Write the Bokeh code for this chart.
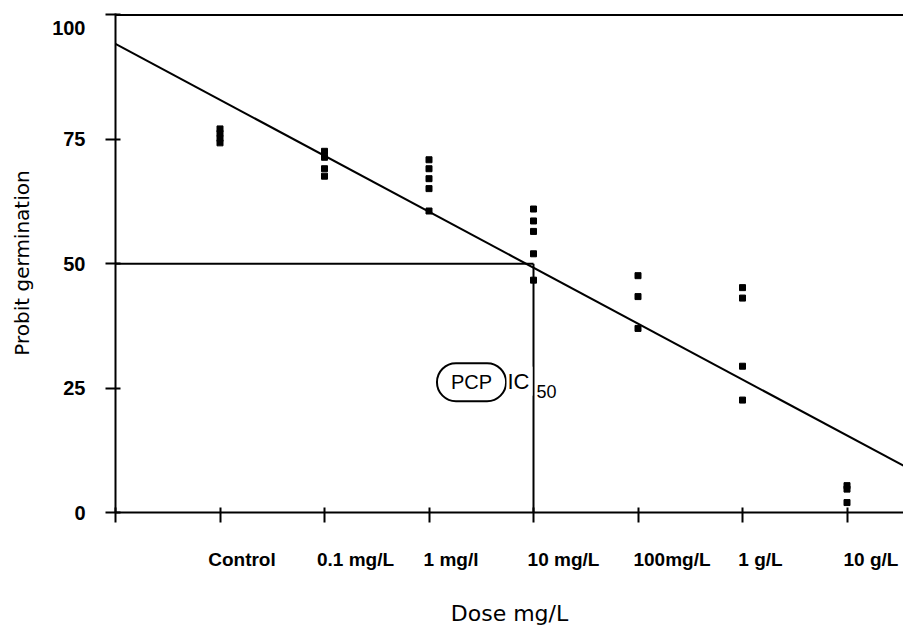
from bokeh.plotting import figure
from bokeh.models import Range1d, FixedTicker, Span, Label, LinearAxis
from bokeh.embed import file_html
from bokeh.resources import INLINE

# ---- data ----
dose_labels = ["Control", "0.1 mg/L", "1 mg/l", "10 mg/L", "100mg/L", "1 g/L", "10 g/L"]
dose_pos = [1, 2, 3, 4, 5, 6, 7]

control_vals = [77.1, 76.2, 75.2, 74.3]
dose_01mg_vals = [72.6, 71.4, 69.1, 67.6]
dose_1mg_vals = [70.9, 69.1, 67.1, 65.1, 60.6]
dose_10mg_vals = [61.0, 58.6, 56.5, 52.0, 46.7]
dose_100mg_vals = [47.6, 43.4, 37.0]
dose_1g_vals = [45.2, 43.1, 29.4, 22.6]
dose_10g_vals = [5.4, 4.7, 2.0]

fit_x = [0.0, 7.54]
fit_y = [94.2, 9.4]

ic50_x = 4
ic50_y = 50

y_ticks = [0, 25, 50, 75, 100]

# layout only: pixel shift of each dose label's centre to the right of its tick
label_shift_px = [22, 31, 22, 30, 34, 18, 24]
PX_PER_UNIT = 104.5

series = [control_vals, dose_01mg_vals, dose_1mg_vals, dose_10mg_vals,
          dose_100mg_vals, dose_1g_vals, dose_10g_vals]
pts_x, pts_y = [], []
for pos, vals in zip(dose_pos, series):
    pts_x += [pos] * len(vals)
    pts_y += vals

TICK_FONT = "Liberation Sans"
TITLE_FONT = "DejaVu Sans"

p = figure(frame_width=788, frame_height=499,
           x_range=Range1d(0, 788 / PX_PER_UNIT), y_range=Range1d(0, 100.3),
           output_backend="svg", toolbar_location=None,
           min_border_left=115, min_border_right=0,
           min_border_top=13, min_border_bottom=112)
p.outline_line_color = None
p.grid.visible = False
p.background_fill_color = "white"

# x axis: line and ticks only
xa = p.xaxis[0]
xa.ticker = FixedTicker(ticks=[0] + dose_pos)
xa.major_label_overrides = {i: "" for i in [0] + dose_pos}
xa.major_label_text_font_size = "0px"
xa.major_label_standoff = 0
xa.major_tick_in = 5
xa.major_tick_out = 10
xa.minor_tick_line_color = None
xa.axis_line_width = 2
xa.major_tick_line_width = 2

# second x axis: the dose labels, set to the right of each tick
label_pos = [d + s / PX_PER_UNIT for d, s in zip(dose_pos, label_shift_px)]
xb = LinearAxis(ticker=FixedTicker(ticks=label_pos),
                major_label_overrides={lp: t for lp, t in zip(label_pos, dose_labels)})
xb.axis_line_color = None
xb.major_tick_line_color = None
xb.minor_tick_line_color = None
xb.major_tick_in = 0
xb.major_tick_out = 0
xb.major_label_standoff = 26
xb.major_label_text_font = TICK_FONT
xb.major_label_text_font_style = "bold"
xb.major_label_text_font_size = "19px"
xb.major_label_text_color = "black"
xb.axis_label = "Dose mg/L"
xb.axis_label_text_font = TITLE_FONT
xb.axis_label_text_font_size = "22px"
xb.axis_label_text_font_style = "normal"
xb.axis_label_text_color = "black"
xb.axis_label_standoff = 28
p.add_layout(xb, "below")

# y axis
ya = p.yaxis[0]
ya.ticker = FixedTicker(ticks=y_ticks)
ya.major_label_overrides = {100: "\n100"}
ya.major_label_text_font = TICK_FONT
ya.major_label_text_font_style = "bold"
ya.major_label_text_font_size = "20px"
ya.major_label_text_line_height = 0.75
ya.major_label_text_color = "black"
ya.major_label_standoff = 20
ya.major_tick_in = 5
ya.major_tick_out = 10
ya.minor_tick_line_color = None
ya.axis_line_width = 2
ya.major_tick_line_width = 2
ya.axis_label = "Probit germination"
ya.axis_label_text_font = TITLE_FONT
ya.axis_label_text_font_size = "20px"
ya.axis_label_text_font_style = "normal"
ya.axis_label_text_color = "black"
ya.axis_label_standoff = 15

# top border line
p.add_layout(Span(location=100, dimension="width", line_color="black", line_width=2))

# regression line
p.line(fit_x, fit_y, line_color="black", line_width=2)

# IC50 guide lines
p.line([0, ic50_x], [ic50_y, ic50_y], line_color="black", line_width=2)
p.line([ic50_x, ic50_x], [0, ic50_y], line_color="black", line_width=2)

# data points
p.scatter(pts_x, pts_y, marker="square", size=6, fill_color="black", line_color="black")

# PCP pill label
p.add_layout(Label(x=3.407, y=26.2, text="PCP", text_align="center", text_baseline="middle",
                   text_font=TICK_FONT, text_font_size="20px", text_color="black",
                   padding=dict(left=14, right=14, top=8, bottom=8),
                   border_line_color="black", border_line_width=2, border_radius=19,
                   background_fill_color="white"))

# IC50 label
p.add_layout(Label(x=ic50_x, y=26.4, x_offset=-1, text="IC", text_align="right",
                   text_baseline="middle", text_font=TICK_FONT, text_font_size="22px",
                   text_color="black", background_fill_color="white",
                   padding=dict(left=1, right=3, top=2, bottom=2)))
p.add_layout(Label(x=ic50_x, y=24.4, x_offset=2, text="50", text_align="left",
                   text_baseline="middle", text_font=TICK_FONT, text_font_size="18px",
                   text_color="black", background_fill_color="white",
                   padding=dict(left=1, right=1, top=1, bottom=1)))

open("out.html", "w").write(file_html(p, INLINE))
